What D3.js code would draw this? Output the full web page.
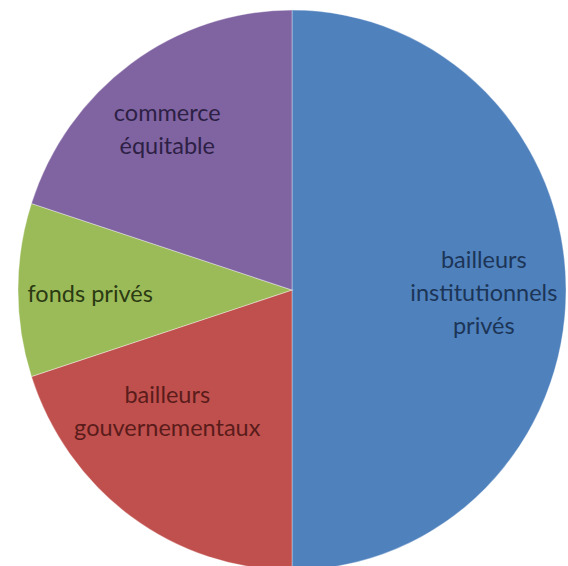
<!DOCTYPE html>
<html>
<head>
<meta charset="utf-8">
<script src="https://cdn.jsdelivr.net/npm/d3@7"></script>
<style>
  body { margin: 0; background: #fff; }
  svg { display: block; }
</style>
</head>
<body>
<div class="container"></div>
<script>
// data (shares of the whole, %)
const categories = ["bailleurs institutionnels privés", "bailleurs gouvernementaux", "fonds privés", "commerce équitable"];
const values = [50, 20, 10, 20];
const labelLines = [
  ["bailleurs", "institutionnels", "privés"],
  ["bailleurs", "gouvernementaux"],
  ["fonds privés"],
  ["commerce", "équitable"]
];

const fills = ["#4f81bd", "#c0504d", "#9bbb59", "#8064a2"];
const textFills = ["#1c3557", "#5a1c1b", "#2b3a12", "#2d2045"];
// small nudges so labels sit where the original put them
const nudges = [[0, 2], [-12, -38], [-10, 3], [-12, -3]];

const width = 568, height = 566;
const cx = 292, cy = 290;
const rx = 274, ry = 280;

const svg = d3.select(".container").append("svg")
    .attr("width", width)
    .attr("height", height);

const g = svg.append("g")
    .attr("transform", `translate(${cx},${cy}) scale(1,${ry / rx})`);

const table = categories.map((c, i) => ({name: c, value: values[i], i: i}));

const pie = d3.pie().sort(null).value(d => d.value);
const arcs = pie(table);

const arc = d3.arc().innerRadius(0).outerRadius(rx);
const labelArc = d3.arc().innerRadius(rx * 0.7).outerRadius(rx * 0.7);

g.selectAll("path")
  .data(arcs)
  .enter()
  .append("path")
  .attr("d", arc)
  .attr("fill", d => fills[d.data.i])
  .attr("stroke", "#ffffff")
  .attr("stroke-opacity", 0.35)
  .attr("stroke-width", 1);

const lineH = 33;
const labels = svg.append("g")
    .attr("transform", `translate(${cx},${cy})`);

labels.selectAll("text")
  .data(arcs)
  .enter()
  .append("text")
  .attr("font-family", "Lato, 'Open Sans', sans-serif")
  .attr("font-size", "23.5px")
  .attr("text-anchor", "middle")
  .attr("fill", d => textFills[d.data.i])
  .each(function(d) {
    const c = labelArc.centroid(d);
    const x = c[0] + nudges[d.data.i][0];
    const y = c[1] * ry / rx + nudges[d.data.i][1];
    const lines = labelLines[d.data.i];
    const t = d3.select(this);
    lines.forEach((ln, k) => {
      t.append("tspan")
        .attr("x", x)
        .attr("y", y + (k - (lines.length - 1) / 2) * lineH)
        .attr("dominant-baseline", "central")
        .text(ln);
    });
  });
</script>
</body>
</html>
